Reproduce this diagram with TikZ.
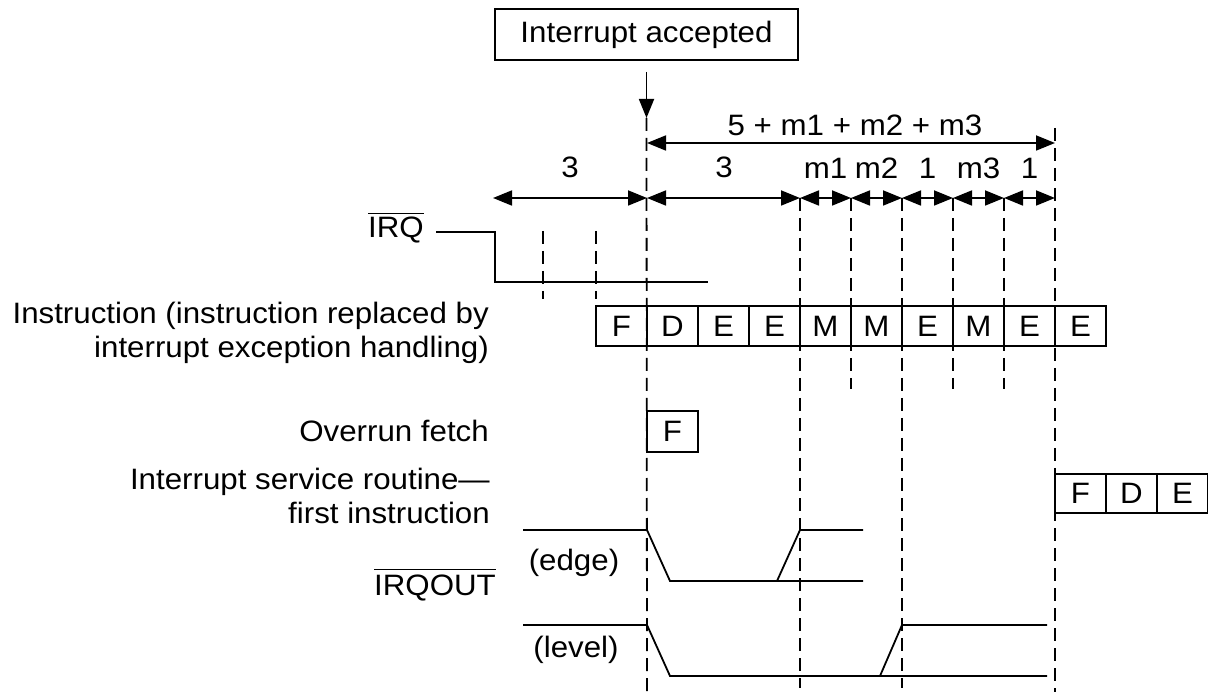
\documentclass[tikz,border=0pt]{standalone}
\usepackage{fontspec}
\setmainfont{Liberation Sans}[FakeStretch=1.06]
\usetikzlibrary{arrows.meta}
\begin{document}
\begin{tikzpicture}[x=1pt,y=-1pt,
  font=\fontsize{29.5}{34}\selectfont,
  cell/.style={draw, line width=1.4pt, minimum width=51pt, minimum height=40pt, inner sep=0pt},
  dim/.style={{Triangle[length=19pt,width=15pt]}-{Triangle[length=19pt,width=15pt]}, line width=1.8pt},
  guide/.style={line width=1.8pt, dash pattern=on 13pt off 7pt},
  wave/.style={line width=1.8pt},
  lbl/.style={inner sep=0pt, anchor=base},
  side/.style={inner sep=0pt, anchor=base east, align=right},
  bar/.style={line width=1.4pt}]
\useasboundingbox (0,0) rectangle (1208,692);

% Interrupt accepted
\node[draw, line width=1.4pt, minimum width=303pt, minimum height=51pt, inner sep=0pt] (acc) at (646.5,34.5) {Interrupt accepted};
\coordinate (arrtop) at (646.5,72);
\coordinate (tip) at (646.5,118);
\draw[line width=1.8pt, -{Triangle[length=19pt,width=15pt]}] (arrtop) -- (tip);

% grid coordinates on the arrow row
\foreach \i in {0,...,10} \coordinate (r\i) at ({596+51*\i},198);
\coordinate (rL) at (493,198);
\coordinate (b0) at (647,143);
\coordinate (b1) at (1055,143);

% dimension arrows
\draw[dim] (b0) -- (b1);
\draw[dim] (rL) -- (r1);
\draw[dim] (r1) -- (r4);
\foreach \a/\b in {4/5,5/6,6/7,7/8,8/9} \draw[dim] (r\a) -- (r\b);

% dimension labels
\node[lbl] (ltot) at (855,136) {5 + m1 + m2 + m3};
\node[lbl] (l3a) at (570,178) {3};
\node[lbl] (l3b) at (724,178) {3};
\node[lbl] (lm1) at (825.5,179) {m1};
\node[lbl] (lm2) at (876.5,179) {m2};
\node[lbl] (l1a) at (927.5,179) {1};
\node[lbl] (lm3) at (978.5,179) {m3};
\node[lbl] (l1b) at (1029.5,179) {1};

% dashed guide lines
\draw[guide] (tip) -- (647,692);
\draw[guide] (r4) -- (800,688);
\draw[guide] (r5) -- (851,389);
\draw[guide] (r6) -- (902,688);
\draw[guide] (r7) -- (953,389);
\draw[guide] (r8) -- (1004,389);
\draw[guide] (1055,128) -- (1055,692);
\draw[guide] (543,231) -- (543,299);
\draw[guide] (596,231) -- (596,299);

% IRQ
\node[side] (irq) at (424,238) {IRQ};
\draw[bar] ([yshift=3.5pt]irq.north west) -- ([yshift=3.5pt]irq.north east);
\draw[wave] (436,232) -- (495,232) -- (495,282) -- (708,282);

% instruction row
\foreach \t [count=\k from 0] in {F,D,E,E,M,M,E,M,E,E}
  \node[cell] (i\k) at ({621.5+51*\k},326) {\t};
\node[side] (linstr) at (489,358) {Instruction (instruction replaced by\\interrupt exception handling)};

% overrun fetch
\node[cell, minimum height=41pt] (ovf) at (672.5,431.5) {F};
\node[side] (lovf) at (489,442) {Overrun fetch};

% ISR
\node[cell, minimum height=39pt] (s0) at (1080.5,493.5) {F};
\node[cell, minimum height=39pt] (s1) at (1131.5,493.5) {D};
\node[cell, minimum height=39pt] (s2) at (1182.5,493.5) {E};
\node[side] (lisr) at (490,523) {Interrupt service routine---\\first instruction};

% IRQOUT
\node[side] (irqout) at (496,595) {IRQOUT};
\draw[bar] ([yshift=5pt]irqout.north west) -- ([yshift=5pt]irqout.north east);

% edge waveform
\draw[wave] (523,530) -- (647,530) -- (670,581) -- (863,581);
\draw[wave] (777,581) -- (800,530) -- (863,530);
\node[lbl] (ledge) at (574,570) {(edge)};

% level waveform
\draw[wave] (523,625) -- (647,625) -- (670,676) -- (1047,676);
\draw[wave] (880,676) -- (902,625) -- (1047,625);
\node[lbl] (llevel) at (576,657) {(level)};
\end{tikzpicture}
\end{document}
